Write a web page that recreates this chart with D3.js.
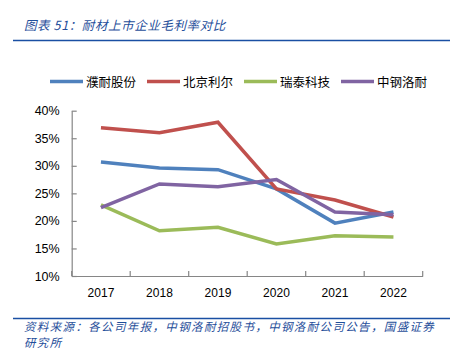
<!DOCTYPE html>
<html><head><meta charset="utf-8">
<script src="https://cdn.jsdelivr.net/npm/d3@7"></script>
<style>
html,body{margin:0;padding:0;background:#fff;}
svg{display:block;}
</style></head>
<body>
<svg id="c" width="457" height="353"></svg>
<script>
const years = ["2017","2018","2019","2020","2021","2022"];
const seriesNames = ["濮耐股份","北京利尔","瑞泰科技","中钢洛耐"];
const puNai   = [30.7, 29.6, 29.3, 25.8, 19.6, 21.6];
const beijingLier = [36.9, 36.0, 37.9, 25.8, 23.8, 20.7];
const ruiTai  = [22.9, 18.2, 18.85, 15.8, 17.3, 17.1];
const zhongGang = [22.4, 26.7, 26.2, 27.5, 21.6, 21.1];
const yTicks = [0.10,0.15,0.20,0.25,0.30,0.35,0.40];
const colors = ["#4F81BD","#C0504D","#9BBB59","#8064A2"];
const titleText = "图表 51：耐材上市企业毛利率对比";
const sourceLine1 = "资料来源：各公司年报，中钢洛耐招股书，中钢洛耐公司公告，国盛证券";
const sourceLine2 = "研究所";

const allSeries = [puNai, beijingLier, ruiTai, zhongGang];
const svg = d3.select("#c");
const cjk = "'Noto Sans CJK SC', sans-serif";
const blueText = "#1F4E9A";

// Title
svg.append("text").attr("x",24).attr("y",30)
  .attr("font-family",cjk).attr("font-size",12.5).attr("font-style","italic")
  .attr("letter-spacing",0.6).attr("fill",blueText).text(titleText);
svg.append("line").attr("x1",13).attr("x2",450).attr("y1",40.5).attr("y2",40.5)
  .attr("stroke","#1A4FA3").attr("stroke-width",1.5);

// Footer
svg.append("line").attr("x1",13).attr("x2",450).attr("y1",318.5).attr("y2",318.5)
  .attr("stroke","#1A4FA3").attr("stroke-width",1.5);
svg.append("text").attr("x",24).attr("y",331)
  .attr("font-family",cjk).attr("font-size",11.5).attr("font-style","italic")
  .attr("letter-spacing",1.35).attr("fill",blueText).text(sourceLine1);
svg.append("text").attr("x",24).attr("y",347)
  .attr("font-family",cjk).attr("font-size",11.5).attr("font-style","italic")
  .attr("letter-spacing",1.35).attr("fill",blueText).text(sourceLine2);

// Scales
const x = d3.scaleBand().domain(years).range([71.7, 422.7]);
const y = d3.scaleLinear().domain([0.10, 0.40]).range([276, 110.7]);

// Y axis
const yAxis = svg.append("g").attr("transform","translate(71.7,0)")
  .call(d3.axisLeft(y).tickValues(yTicks).tickFormat(d3.format(".0%")).tickSizeInner(-5).tickSizeOuter(0).tickPadding(12));
yAxis.select(".domain").attr("stroke","#868686").attr("stroke-width",1.2);
yAxis.selectAll(".tick line").attr("stroke","#868686").attr("stroke-width",1.2);
yAxis.selectAll("text").attr("font-family","Liberation Sans, Arial").attr("font-size",12.5).attr("fill","#000");

// X axis
const xAxis = svg.append("g").attr("transform","translate(0,276)")
  .call(d3.axisBottom(x).tickSize(0).tickPadding(12));
xAxis.select(".domain").attr("stroke","#868686").attr("stroke-width",1.2);
xAxis.selectAll("text").attr("font-family","Liberation Sans, Arial").attr("font-size",12).attr("fill","#000");
// x boundary ticks (inside, pointing up)
const bounds = years.map(d => x(d)).concat([x.range()[1]]);
svg.append("g").selectAll("line").data(bounds).join("line")
  .attr("x1",d=>d).attr("x2",d=>d).attr("y1",276).attr("y2",271)
  .attr("stroke","#868686").attr("stroke-width",1.2);

// Lines
const line = d3.line().x((d,i)=>x(years[i]) + x.bandwidth()/2).y(d=>y(d/100));
allSeries.forEach((s,i)=>{
  svg.append("path").datum(s).attr("d",line)
    .attr("fill","none").attr("stroke",colors[i]).attr("stroke-width",3.5)
    .attr("stroke-linejoin","miter");
});

// Legend
const legendX = [50, 147, 244, 341];
const lg = svg.append("g");
seriesNames.forEach((n,i)=>{
  lg.append("line").attr("x1",legendX[i]).attr("x2",legendX[i]+33).attr("y1",81.5).attr("y2",81.5)
    .attr("stroke",colors[i]).attr("stroke-width",3.5);
  lg.append("text").attr("x",legendX[i]+36).attr("y",86.5)
    .attr("font-family",cjk).attr("font-size",12.5).attr("fill","#000").text(n);
});
</script>
</body></html>
